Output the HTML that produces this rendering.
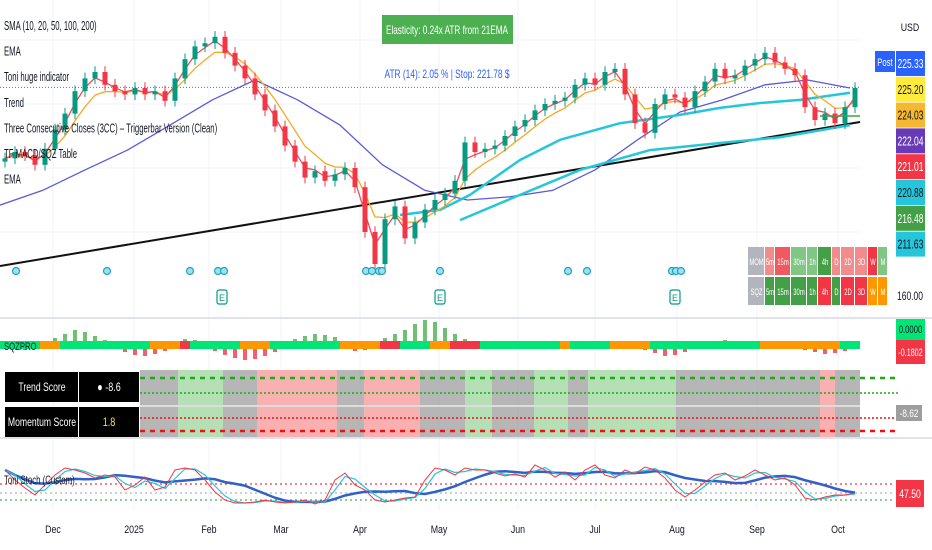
<!DOCTYPE html>
<html><head><meta charset="utf-8">
<style>
html,body{margin:0;padding:0;background:#fff;width:932px;height:550px;overflow:hidden;font-family:"Liberation Sans",sans-serif}
svg{display:block}
text{font-family:"Liberation Sans",sans-serif}
</style></head>
<body>
<svg id="c" width="932" height="550" viewBox="0 0 932 550">
<rect x="0" y="0" width="932" height="550" fill="#fff"/>
<g id="grid"></g>
<g id="price"></g>
<g id="sqz"></g>
<g id="trend"></g>
<g id="stoch"></g>
<g id="axis"></g>
</svg>
<script>
// ---- data ----
const closes=[203,205,204,201,206,212,217,224,228,230,226,224,223,225,223,224,221,228,234,238,239,241,236,232,228,223,218,213,207,202,197,199,196,198,200,194,180,170,184,188,178,183,187,190,192,196,208,205,206,207,210,213,215,218,220,221,222,226,228,226,230,231,223,214,211,220,223,222,219,224,227,231,228,229,232,234,236,233,231,229,219,215,217,214,219,225];
const ma50=[188.4,193,199.4,205.6,213.4,221.3,227.5,221.3,213.4,201,193,190,191,193,199.4,208.8,217.5,221.3,226,227.5,225];
const ma100X=[400,440,470,520,560,620,680,720,760,800,850];
const ma100=[185.3,186.9,191.6,202.5,208.8,214,216.6,218.8,220.3,221.3,223.5];
const ma200X=[460,520,580,650,720,780,850];
const ma200=[183.7,191.6,199.4,205.6,207.8,209.6,213.4];
const sqzMom=[0,-1,-2,-1,1,4,8,12,10,6,2,-1,-4,-7,-8,-6,-3,1,3,2,0,-3,-7,-10,-12,-11,-8,-4,0,3,6,8,7,5,1,-3,-2,0,4,8,12,18,22,20,14,8,3,0,-1,-1,0,1,0,-1,0,1,0,-1,0,1,0,-1,0,0,-2,-5,-8,-7,-4,-1,0,1,2,1,0,0,-1,0,1,0,-2,-4,-6,-5,-3,-1];
const sqzDot="ggggoogggggggggooorgggggooogggggggoooorrgggoorrrggggggggoggggoooogggggggggggooooooooggg";
const stochK=[87.5,62.5,42.5,25,50,75,92.5,87.5,80,67.5,75,70,37.5,50,70,37.5,45,87.5,92.5,87.5,62.5,32.5,12.5,5,5,7.5,12.5,7.5,5,7.5,12.5,2.5,12.5,62.5,80,50,37.5,12.5,7.5,12.5,17.5,20,62.5,92.5,87.5,75,92.5,87.5,87.5,80,72.5,77.5,70,100,87.5,70,82.5,62.5,87.5,100,75,67.5,87.5,77.5,95,87.5,67.5,37.5,20,37.5,57.5,75,80,62.5,72.5,87.5,75,62.5,67.5,50,17.5,12.5,20,25,25,30];
const months=["Dec","2025","Feb","Mar","Apr","May","Jun","Jul","Aug","Sep","Oct"];
const monthX=[53,134,209,281,360,439,518,595,677,757,838];
const legendItems=["SMA (10, 20, 50, 100, 200)","EMA","Toni huge indicator","Trend","Three Consecutive Closes (3CC) – Triggerbar Version (Clean)","TF MACD/SQZ Table","EMA"];
const axisLabels=["225.33","225.20","224.03","222.04","221.01","220.88","216.48","211.63"];
const axisColors=["#2962ff","#ffeb3b","#f5b82e","#673ab7","#f23645","#26c6da","#43a047","#26c6da"];
const greenZones=[[178,223],[465,492],[534,568],[588,676]];
const redZones=[[257,337],[364,420],[820,835]];
// ---- scales ----
const NS="http://www.w3.org/2000/svg";
const xOf=i=>5+i*10;
const yP=p=>88-(p-225)*3.2;
const yS=v=>505-v*0.4;
function mk(t,a,par){const e=document.createElementNS(NS,t);for(const k in a)e.setAttribute(k,a[k]);document.getElementById(par).appendChild(e);return e;}
function fit(t,f){const L=t.getComputedTextLength();if(L>0){t.setAttribute('textLength',(L*f).toFixed(1));t.setAttribute('lengthAdjust','spacingAndGlyphs');}}
// grid
for(let i=0;i<monthX.length;i++){const l=mk('line',{x1:monthX[i],x2:monthX[i],y1:0,y2:510,stroke:'#f0f3fa'},'grid');

}
[40,104,168,232].forEach(y=>{const l=mk('line',{x1:0,x2:860,y1:y,y2:y,stroke:'#f0f3fa'},'grid');

});
const tl=mk('line',{x1:0,y1:266,x2:860,y2:122,stroke:'#111',"stroke-width":2},'price');


const pl=mk('line',{x1:0,x2:860,y1:yP(225.2),y2:yP(225.2),stroke:'#4a6cf7',"stroke-dasharray":'1 2'},'price');


function poly(pts,col,w,name){const e=mk('polyline',{points:pts.map(p=>p.join(',')).join(' '),fill:'none',stroke:col,"stroke-width":w,"stroke-linejoin":'round'},'price');

return e;}
poly(ma50.map((v,i)=>[i*42.5,yP(v)]),'#5b5bd6',1.3,'sma-50-line');
poly(ma100.map((v,i)=>[ma100X[i],yP(v)]),'#26c6da',2.5,'sma-100-line');
poly(ma200.map((v,i)=>[ma200X[i],yP(v)]),'#26c6da',2.5,'sma-200-line');
function ema(n){let e=closes[0],o=[];closes.forEach(c=>{e=e+(c-e)*2/(n+1);o.push(e)});return o;}
poly(ema(5).map((v,i)=>[xOf(i),yP(v)]),'#f8a825',1.3,'ema-slow-line');
poly(ema(2.2).map((v,i)=>[xOf(i),yP(v)]),'#ef4d5a',1.3,'ema-fast-line');
closes.forEach((c,i)=>{const o=i?closes[i-1]:c-1;const up=c>=o;const col=up?'#089981':'#f23645';
const hi=Math.max(o,c)+1.8,lo=Math.min(o,c)-1.8;
const w=mk('line',{x1:xOf(i),x2:xOf(i),y1:yP(hi),y2:yP(lo),stroke:col},'price');


const top=yP(Math.max(o,c)),h=Math.max(1,Math.abs(yP(o)-yP(c)));
const b=mk('rect',{x:xOf(i)-2.5,y:top,width:5,height:h,fill:col},'price');

});
const sl=mk('line',{x1:820,x2:860,y1:116,y2:116,stroke:'#43a047',"stroke-width":1.5},'price');


[16,107,190,218,224,366,372,379,382,440,568,587,672,676,681].forEach(x=>{const d=mk('circle',{cx:x,cy:271,r:3.5,fill:'#9fe0ea',stroke:'#1fa5c0',"stroke-width":1.2},'price');

});
[222,440,675].forEach(x=>{const r=mk('rect',{x:x-5,y:290,width:10,height:14,rx:2,fill:'#fff',stroke:'#089981',"stroke-width":1.2},'price');


const t=mk('text',{x:x,y:301,"font-size":9,fill:'#089981',"text-anchor":'middle'},'price');t.textContent='E';

});
legendItems.forEach((s,i)=>{const t=mk('text',{x:4,y:30+i*25.6,"font-size":12.5,fill:'#131722'},'price');t.textContent=s;


fit(t,0.62);});
const eb=mk('rect',{x:382,y:15,width:131,height:29,fill:'#4caf50'},'price');


const et=mk('text',{x:447,y:34,"font-size":12,fill:'#fff',"text-anchor":'middle'},'price');et.textContent='Elasticity: 0.24x ATR from 21EMA';


et.setAttribute('textLength','122');
et.setAttribute('lengthAdjust','spacingAndGlyphs');
const at=mk('text',{x:447,y:78,"font-size":12,fill:'#2962ff',"text-anchor":'middle'},'price');at.textContent='ATR (14): 2.05 % | Stop: 221.78 $';


at.setAttribute('textLength','125');
at.setAttribute('lengthAdjust','spacingAndGlyphs');
const colsW=[17,10,16,16,11,14,9,14,13,10,10];
const r1=["MOM","5m","15m","30m","1h","4h","D","2D","3D","W","M"],c1=['#b2b5be','#f28b8b','#f0595f','#81c784','#81c784','#43a047','#f28b8b','#f28b8b','#f28b8b','#f23645','#81c784'];
const r2=["SQZ","5m","15m","30m","1h","4h","D","2D","3D","W","M"],c2=['#b2b5be','#43a047','#43a047','#43a047','#43a047','#f23645','#43a047','#f23645','#f23645','#ff9800','#ff9800'];
[[r1,c1,247],[r2,c2,277]].forEach(([lab,col,y])=>{let x=748;lab.forEach((s,i)=>{const r=mk('rect',{x:x,y:y,width:colsW[i]-1,height:28,fill:col[i]},'price');


const t=mk('text',{x:x+colsW[i]/2,y:y+18,"font-size":9,fill:'#fff',"text-anchor":'middle'},'price');t.textContent=s;


fit(t,0.65);x+=colsW[i];});});
const usd=mk('text',{x:910,y:31,"font-size":11,fill:'#131722',"text-anchor":'middle'},'axis');usd.textContent='USD';


fit(usd,0.8);
const post=mk('rect',{x:875,y:51,width:20,height:21,fill:'#2962ff'},'axis');


const pt=mk('text',{x:885,y:66,"font-size":11,fill:'#fff',"text-anchor":'middle'},'axis');pt.textContent='Post';


fit(pt,0.7);
axisLabels.forEach((s,i)=>{const y=51+i*25.8;const r=mk('rect',{x:896,y:y,width:29,height:25,fill:axisColors[i]},'axis');


const dark=(i==1||i==2||i==5||i==7);
const t=mk('text',{x:910.5,y:y+17,"font-size":13,fill:dark?'#131722':'#fff',"text-anchor":'middle'},'axis');t.textContent=s;


t.setAttribute('textLength','26');
t.setAttribute('lengthAdjust','spacingAndGlyphs');});
const t160=mk('text',{x:910,y:300,"font-size":12,fill:'#131722',"text-anchor":'middle'},'axis');t160.textContent='160.00';


t160.setAttribute('textLength','26');
t160.setAttribute('lengthAdjust','spacingAndGlyphs');
[318,438].forEach(y=>{const l=mk('line',{x1:0,x2:932,y1:y,y2:y,stroke:'#e0e3eb',"stroke-width":2},'axis');

});
// SQZ pane
const z0=345;
sqzMom.forEach((v,i)=>{const col=v>=0?'#4caf50':'#f23645';const h=Math.abs(v)*1.0;
const b=mk('rect',{x:xOf(i)-2,y:v>=0?z0-h-3:z0+3,width:4,height:h,fill:col,opacity:0.8},'sqz');


const dc=sqzDot[i]=='g'?'#00e676':sqzDot[i]=='o'?'#ff9800':'#f23645';
const d=mk('rect',{x:xOf(i)-5,y:z0-4,width:10,height:8,fill:dc},'sqz');

});
const sqt=mk('text',{x:4,y:350,"font-size":11,fill:'#131722'},'sqz');sqt.textContent='SQZPRO';


fit(sqt,0.7);
const sb1=mk('rect',{x:896,y:318,width:29,height:22,fill:'#00e676'},'sqz');


const st1=mk('text',{x:910.5,y:333,"font-size":11,fill:'#131722',"text-anchor":'middle'},'sqz');st1.textContent='0.0000';


fit(st1,0.7);
const sb2=mk('rect',{x:896,y:340,width:29,height:24,fill:'#f23645'},'sqz');


const st2=mk('text',{x:910.5,y:356,"font-size":11,fill:'#fff',"text-anchor":'middle'},'sqz');st2.textContent='-0.1802';


fit(st2,0.65);
// Trend pane
const tb=mk('rect',{x:140,y:370,width:720,height:67,fill:'#9e9e9e',opacity:0.75},'trend');


greenZones.forEach(z=>{const r=mk('rect',{x:z[0],y:370,width:z[1]-z[0],height:67,fill:'#b5e0b5'},'trend');

});
redZones.forEach(z=>{const r=mk('rect',{x:z[0],y:370,width:z[1]-z[0],height:67,fill:'#f9b0b0'},'trend');

});
[[378,'#1aaa1a','5 5',2.5],[393,'#1aaa1a','2 2',1.5],[418,'#e11','2 2',1.5],[431,'#e11','5 5',2.5]].forEach(a=>{const l=mk('line',{x1:140,x2:900,y1:a[0],y2:a[0],stroke:a[1],"stroke-dasharray":a[2],"stroke-width":a[3]},'trend');

});
const sep=mk('line',{x1:140,x2:860,y1:406,y2:406,stroke:'#ddd',"stroke-width":2},'trend');


[["Trend Score","● -8.6","#fff",372],["Momentum Score","1.8","#ffeb3b",407]].forEach(r=>{const a=mk('rect',{x:5,y:r[3],width:73,height:30,fill:'#000'},'trend');


const b=mk('rect',{x:79,y:r[3],width:60,height:30,fill:'#000'},'trend');


const t1=mk('text',{x:42,y:r[3]+19,"font-size":12,fill:'#fff',"text-anchor":'middle'},'trend');t1.textContent=r[0];


fit(t1,0.72);
const t2=mk('text',{x:109,y:r[3]+19,"font-size":12,fill:r[2],"text-anchor":'middle'},'trend');t2.textContent=r[1];


fit(t2,0.75);});
const tg=mk('rect',{x:896,y:405,width:26,height:16,fill:'#9e9e9e'},'trend');


const tgt=mk('text',{x:909,y:417,"font-size":11,fill:'#fff',"text-anchor":'middle'},'trend');tgt.textContent='-8.62';


fit(tgt,0.75);
// Stoch pane
[[484,'#f23645'],[493,'#b2b5be'],[500,'#4caf50']].forEach(a=>{const l=mk('line',{x1:0,x2:895,y1:a[0],y2:a[0],stroke:a[1],"stroke-dasharray":'2 3',"stroke-width":1.3},'stoch');

});
function spoly(vals,col,w,name){const e=mk('polyline',{points:vals.map((v,i)=>xOf(i)+','+yS(v)).join(' '),fill:'none',stroke:col,"stroke-width":w},'stoch');

}
const sm=n=>stochK.map((v,i)=>{let s=0,c=0;for(let j=Math.max(0,i-n+1);j<=i;j++){s+=stochK[j];c++}return s/c;});
spoly(sm(8),'#2f62c8',2.5,'stoch-signal-line');
spoly(sm(2),'#26c6da',1.2,'stoch-d-line');
spoly(stochK,'#f23645',1,'stoch-k-line');
const stt=mk('text',{x:4,y:484,"font-size":12,fill:'#131722'},'stoch');stt.textContent='Toni Stoch (Custom)';


fit(stt,0.65);
const sg=mk('rect',{x:896,y:480,width:28,height:27,fill:'#f23645'},'stoch');


const sgt=mk('text',{x:910,y:498,"font-size":12,fill:'#fff',"text-anchor":'middle'},'stoch');sgt.textContent='47.50';


fit(sgt,0.72);
months.forEach((m,i)=>{const t=mk('text',{x:monthX[i],y:533,"font-size":11,fill:'#131722',"text-anchor":'middle'},'axis');t.textContent=m;


fit(t,0.8);});
</script>
</body></html>
